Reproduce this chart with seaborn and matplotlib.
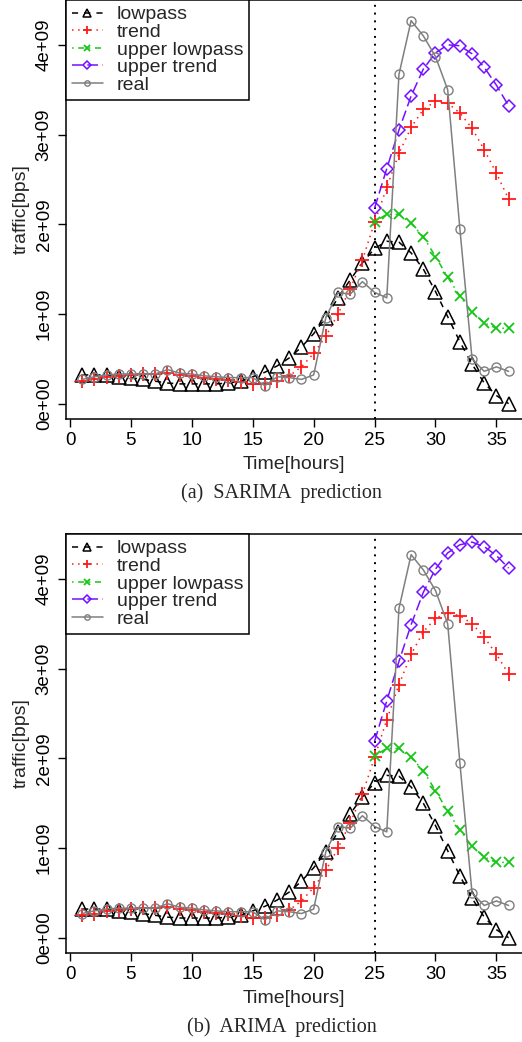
"""SARIMA vs ARIMA traffic prediction, two stacked panels."""
import matplotlib
matplotlib.use("Agg")
import matplotlib.pyplot as plt
import numpy as np
import seaborn as sns
from matplotlib.ticker import FuncFormatter

# ----------------------------------------------------------------------
# data (traffic in units of 1e9 bps)
# ----------------------------------------------------------------------
hours = list(range(1, 37))
hours_fc = list(range(25, 37))

lowpass = [0.32, 0.32, 0.32, 0.30, 0.29, 0.27, 0.25, 0.23, 0.22, 0.22,
           0.22, 0.22, 0.23, 0.25, 0.30, 0.35, 0.42, 0.51, 0.63, 0.78,
           0.96, 1.18, 1.38, 1.57, 1.73, 1.81, 1.80, 1.68, 1.50, 1.25,
           0.97, 0.69, 0.44, 0.23, 0.09, 0.00]

real = [0.27, 0.30, 0.32, 0.33, 0.33, 0.33, 0.33, 0.38, 0.34, 0.33,
        0.31, 0.30, 0.29, 0.29, 0.29, 0.20, 0.30, 0.29, 0.27, 0.32,
        0.96, 1.24, 1.22, 1.36, 1.24, 1.18, 3.67, 4.27, 4.10, 3.87,
        3.50, 1.95, 0.50, 0.36, 0.41, 0.36]

trend_sarima = [0.25, 0.27, 0.30, 0.31, 0.32, 0.33, 0.33, 0.34, 0.32, 0.31,
                0.29, 0.28, 0.26, 0.24, 0.22, 0.22, 0.25, 0.31, 0.41, 0.56,
                0.75, 1.00, 1.28, 1.60, 2.02, 2.41, 2.79, 3.08, 3.28, 3.37,
                3.35, 3.24, 3.07, 2.83, 2.57, 2.28]

trend_arima = trend_sarima[:24] + [2.01, 2.43, 2.82, 3.16, 3.41, 3.56,
                                   3.62, 3.59, 3.50, 3.35, 3.16, 2.94]

upper_lowpass = [2.03, 2.11, 2.11, 2.01, 1.86, 1.64, 1.41, 1.20, 1.02,
                 0.90, 0.84, 0.84]

upper_trend_sarima = [2.18, 2.62, 3.05, 3.43, 3.73, 3.91, 4.00, 3.99, 3.90,
                      3.75, 3.55, 3.32]
upper_trend_arima = [2.19, 2.64, 3.08, 3.49, 3.85, 4.11, 4.29, 4.38, 4.41,
                     4.36, 4.26, 4.12]

forecast_start = 25
panels = [
    ("(a)  SARIMA  prediction", trend_sarima, upper_trend_sarima),
    ("(b)  ARIMA  prediction", trend_arima, upper_trend_arima),
]

# ----------------------------------------------------------------------
sns.set_style("ticks")
plt.rcParams["font.family"] = ["Liberation Sans", "DejaVu Sans"]

RED = "#ff1a1a"
GREEN = "#17c617"
PURPLE = "#7410ff"
GREY = "#7f7f7f"


def draw_panel(ax, trend, upper_trend):
    s = 1e9
    sns.lineplot(x=hours, y=np.array(lowpass) * s, ax=ax, color="black",
                 linestyle=(0, (4, 4)), lw=1.1, marker="^", markersize=9.5,
                 markerfacecolor="none", markeredgecolor="black", mew=1.1,
                 label="lowpass")
    sns.lineplot(x=hours, y=np.array(trend) * s, ax=ax, color=RED,
                 linestyle=(0, (1, 3)), lw=1.1, marker="+", markersize=10,
                 markeredgecolor=RED, mew=1.3, label="trend")
    sns.lineplot(x=hours_fc, y=np.array(upper_lowpass) * s, ax=ax, color=GREEN,
                 linestyle=(0, (1, 3, 4, 3)), lw=1.1, marker="x", markersize=7.5,
                 markeredgecolor=GREEN, mew=1.3, label="upper lowpass")
    sns.lineplot(x=hours_fc, y=np.array(upper_trend) * s, ax=ax, color=PURPLE,
                 linestyle=(0, (7, 3)), lw=1.1, marker="D", markersize=6.5,
                 markerfacecolor="none", markeredgecolor=PURPLE, mew=1.1,
                 label="upper trend")
    sns.lineplot(x=hours, y=np.array(real) * s, ax=ax, color=GREY,
                 linestyle="-", lw=1.1, marker="o", markersize=6.5,
                 markerfacecolor="none", markeredgecolor=GREY, mew=1.0,
                 label="real")
    ax.axvline(forecast_start, color="black", ls=(0, (1, 3)), lw=1.4, zorder=0)

    ax.set_xlim(-0.33, 37.1)
    ax.set_ylim(-0.17e9, 4.5e9)
    ax.set_xticks(range(0, 36, 5))
    ax.set_yticks([0, 1e9, 2e9, 3e9, 4e9])
    ax.yaxis.set_major_formatter(FuncFormatter(lambda v, p: f"{v:.0e}"))
    ax.tick_params(axis="both", labelsize=13.5, length=6, width=1, colors="black")
    for lab in ax.get_yticklabels():
        lab.set_rotation(90)
        lab.set_va("center")
    ax.set_xlabel("Time[hours]", fontsize=14, labelpad=5)
    ax.set_ylabel("traffic[bps]", fontsize=14, labelpad=4)
    for side in ("left", "bottom", "top"):
        ax.spines[side].set_color("black")
        ax.spines[side].set_linewidth(1.1)
    ax.spines["right"].set_visible(False)

    leg = ax.legend(loc="upper left", borderaxespad=0, fontsize=14,
                    handlelength=1.6, handletextpad=0.7, labelspacing=0.0,
                    borderpad=0.3, fancybox=False, framealpha=1,
                    edgecolor="black", markerscale=0.6)
    leg.get_frame().set_linewidth(1.1)


fig = plt.figure(figsize=(5.22, 10.42), dpi=100)
boxes = [(0.1264, 0.598, 0.8736, 0.402), (0.1264, 0.0854, 0.8736, 0.4021)]
caption_y = [1 - 493 / 1042, 1 - 1027 / 1042]

for (cap, trend, utrend), box, cy in zip(panels, boxes, caption_y):
    ax = fig.add_axes(box)
    draw_panel(ax, trend, utrend)
    fig.text(0.54, cy, cap, ha="center", va="center", fontsize=14.5,
             family=["Liberation Serif", "DejaVu Serif"])

fig.savefig("out.png", dpi=100)
